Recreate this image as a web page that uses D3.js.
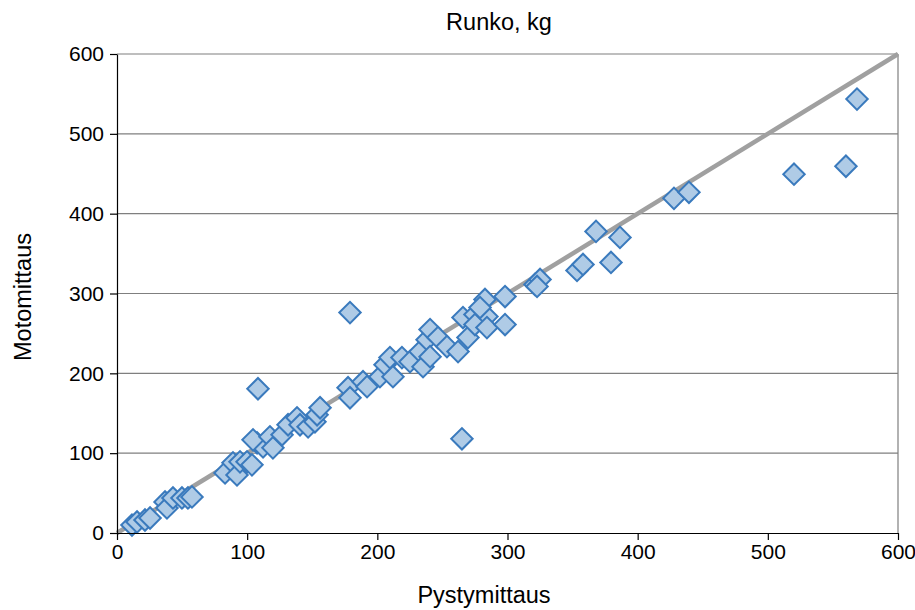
<!DOCTYPE html>
<html>
<head>
<meta charset="utf-8">
<script src="https://cdn.jsdelivr.net/npm/d3@7"></script>
<style>
  body { margin: 0; background: #fff; }
  text { font-family: "Liberation Sans", Arial, sans-serif; fill: #000; }
</style>
</head>
<body>
<svg id="chart" width="915" height="610"></svg>
<script>
// Pystymittaus (x) vs Motomittaus (y), kg
const pysty = [11.5, 15.4, 21.5, 25.4, 36.9, 38.4, 43.0, 49.9, 54.5, 57.6,
  83.0, 89.1, 92.2, 94.5, 99.9, 103.7, 107.6, 112.2, 108.3, 104.5,
  117.5, 119.8, 126.8, 131.4, 138.3, 140.6, 146.8, 152.1, 153.7, 156.0,
  177.5, 179.0, 179.0, 189.0, 192.1, 202.0, 205.9, 209.7, 212.0, 218.9,
  225.1, 232.8, 235.1, 238.2, 240.5, 240.5, 246.6, 253.5, 262.0, 265.0,
  269.6, 265.8, 275.0, 284.2, 275.0, 284.2, 298.1, 282.7, 278.9, 298.1,
  321.1, 325.0, 322.7, 353.4, 358.0, 368.0, 379.5, 386.4, 427.9, 439.4,
  520.1, 560.0, 568.5];
const moto = [10.0, 13.8, 16.3, 18.8, 38.9, 31.4, 43.9, 43.9, 43.9, 45.2,
  75.3, 87.9, 72.8, 89.1, 89.1, 85.4, 113.0, 107.9, 180.7, 116.7,
  120.5, 106.7, 123.0, 135.6, 144.3, 135.6, 133.0, 139.3, 148.1, 156.9,
  182.0, 169.4, 276.1, 189.5, 183.3, 195.8, 210.9, 219.7, 195.8, 219.7,
  214.6, 227.2, 208.4, 242.2, 220.9, 254.8, 244.8, 233.5, 227.2, 118.0,
  244.8, 269.9, 273.6, 271.1, 261.1, 257.3, 261.1, 292.5, 282.4, 296.2,
  311.3, 317.6, 308.8, 328.9, 336.4, 377.8, 338.9, 370.3, 419.2, 426.8,
  449.4, 459.4, 543.5];
const ticks = [0, 100, 200, 300, 400, 500, 600];
const refLine = [0, 600];

const svg = d3.select("#chart");
const margin = {top: 54, right: 17, bottom: 77, left: 117};
const width = 915, height = 610;
const innerWidth = width - margin.left - margin.right;
const innerHeight = height - margin.top - margin.bottom;

const x = d3.scaleLinear().domain([0, 600]).range([0, innerWidth]);
const y = d3.scaleLinear().domain([0, 600]).range([innerHeight, 0]);

const g = svg.append("g").attr("transform", `translate(${margin.left},${margin.top})`);

// gridlines
g.selectAll(".grid").data(ticks.slice(1)).enter().append("line")
  .attr("x1", 0).attr("x2", innerWidth)
  .attr("y1", d => y(d)).attr("y2", d => y(d))
  .attr("stroke", "#7f7f7f").attr("stroke-width", 1.2);

// right border
g.append("line")
  .attr("x1", innerWidth).attr("x2", innerWidth)
  .attr("y1", 0).attr("y2", innerHeight)
  .attr("stroke", "#7f7f7f").attr("stroke-width", 1.2);

// 1:1 line
g.append("line")
  .attr("x1", x(refLine[0])).attr("y1", y(refLine[0]))
  .attr("x2", x(refLine[1])).attr("y2", y(refLine[1]))
  .attr("stroke", "#a0a0a0").attr("stroke-width", 4.5);

// points
const diamond = d3.symbol().type(d3.symbolSquare).size(230);
g.selectAll(".pt").data(pysty.map((v, i) => [v, moto[i]])).enter().append("path")
  .attr("d", diamond)
  .attr("transform", d => `translate(${x(d[0])},${y(d[1])}) rotate(45)`)
  .attr("fill", "#afcbe6")
  .attr("stroke", "#3a7abd")
  .attr("stroke-width", 2);

// axes
const xAxis = g.append("g")
  .attr("transform", `translate(0,${innerHeight})`)
  .call(d3.axisBottom(x).tickValues(ticks).tickSize(7).tickPadding(4).tickSizeOuter(0));
const yAxis = g.append("g")
  .call(d3.axisLeft(y).tickValues(ticks).tickSize(7).tickPadding(6).tickSizeOuter(0));
[xAxis, yAxis].forEach(a => {
  a.attr("font-size", null).attr("font-family", null);
  a.select(".domain").attr("stroke", "#000").attr("stroke-width", 1.2);
  a.selectAll(".tick line").attr("stroke", "#000").attr("stroke-width", 1.2);
  a.selectAll(".tick text").style("font-size", "21px");
});

// labels
svg.append("text")
  .attr("x", 499).attr("y", 30)
  .attr("text-anchor", "middle").style("font-size", "23.5px")
  .text("Runko, kg");
svg.append("text")
  .attr("x", 484).attr("y", 603)
  .attr("text-anchor", "middle").style("font-size", "23.5px")
  .text("Pystymittaus");
svg.append("text")
  .attr("transform", "rotate(-90)")
  .attr("x", -297).attr("y", 31)
  .attr("text-anchor", "middle").style("font-size", "23.5px")
  .text("Motomittaus");
</script>
</body>
</html>
